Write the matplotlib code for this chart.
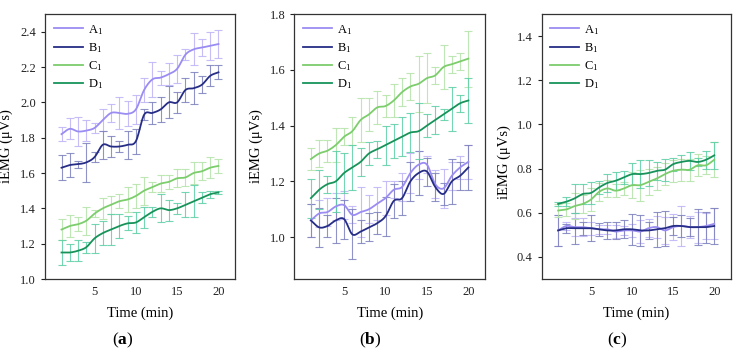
import numpy as np
import matplotlib
matplotlib.use('Agg')
import matplotlib.pyplot as plt

plt.rcParams['font.family'] = 'Liberation Serif'
plt.rcParams['mathtext.fontset'] = 'custom'
plt.rcParams['mathtext.rm'] = 'Liberation Serif'
plt.rcParams['mathtext.it'] = 'Liberation Serif:italic'
plt.rcParams['mathtext.bf'] = 'Liberation Serif:bold'

# time points (min)
t = np.arange(1, 21)

# panel (a)
a_A = [1.82, 1.85, 1.835, 1.84, 1.855, 1.90, 1.94, 1.94, 1.935, 1.96,
       2.07, 2.13, 2.14, 2.16, 2.19, 2.27, 2.30, 2.31, 2.32, 2.33]
a_A_err = [0.04, 0.06, 0.08, 0.06, 0.03, 0.06, 0.05, 0.09, 0.07, 0.08,
           0.07, 0.10, 0.04, 0.06, 0.08, 0.03, 0.09, 0.05, 0.08, 0.08]
a_B = [1.63, 1.645, 1.65, 1.66, 1.69, 1.76, 1.75, 1.75, 1.76, 1.78,
       1.93, 1.94, 1.96, 2.00, 2.00, 2.07, 2.08, 2.10, 2.15, 2.17]
a_B_err = [0.07, 0.07, 0.02, 0.11, 0.03, 0.08, 0.06, 0.03, 0.08, 0.07,
           0.03, 0.06, 0.07, 0.09, 0.06, 0.07, 0.09, 0.05, 0.06, 0.04]
a_C = [1.28, 1.30, 1.31, 1.33, 1.37, 1.40, 1.42, 1.44, 1.45, 1.47,
       1.50, 1.52, 1.54, 1.55, 1.57, 1.575, 1.60, 1.61, 1.63, 1.64]
a_C_err = [0.06, 0.06, 0.04, 0.08, 0.02, 0.06, 0.05, 0.04, 0.07, 0.07,
           0.08, 0.03, 0.05, 0.04, 0.05, 0.05, 0.06, 0.05, 0.06, 0.04]
a_D = [1.15, 1.15, 1.16, 1.18, 1.23, 1.26, 1.28, 1.30, 1.315, 1.32,
       1.35, 1.38, 1.40, 1.39, 1.40, 1.42, 1.44, 1.46, 1.48, 1.49]
a_D_err = [0.07, 0.05, 0.06, 0.03, 0.08, 0.07, 0.09, 0.07, 0.04, 0.06,
           0.06, 0.03, 0.08, 0.06, 0.03, 0.07, 0.09, 0.03, 0.02, 0.01]

# panel (b)
b_A = [1.06, 1.085, 1.09, 1.11, 1.115, 1.08, 1.09, 1.10, 1.12, 1.14,
       1.17, 1.18, 1.23, 1.26, 1.26, 1.19, 1.175, 1.22, 1.25, 1.27]
b_A_err = [0.06, 0.05, 0.05, 0.05, 0.05, 0.03, 0.09, 0.05, 0.06, 0.06,
           0.03, 0.05, 0.07, 0.05, 0.03, 0.05, 0.07, 0.05, 0.04, 0.06]
b_B = [1.06, 1.035, 1.04, 1.06, 1.065, 1.01, 1.02, 1.035, 1.05, 1.075,
       1.13, 1.14, 1.20, 1.23, 1.235, 1.18, 1.155, 1.20, 1.22, 1.25]
b_B_err = [0.06, 0.07, 0.04, 0.08, 0.07, 0.09, 0.04, 0.05, 0.04, 0.07,
           0.06, 0.06, 0.07, 0.08, 0.05, 0.05, 0.04, 0.08, 0.05, 0.08]
b_C = [1.28, 1.30, 1.31, 1.33, 1.36, 1.38, 1.42, 1.44, 1.465, 1.47,
       1.49, 1.52, 1.54, 1.55, 1.57, 1.58, 1.61, 1.62, 1.63, 1.64]
b_C_err = [0.04, 0.05, 0.04, 0.06, 0.03, 0.05, 0.08, 0.06, 0.06, 0.04,
           0.06, 0.05, 0.05, 0.10, 0.09, 0.03, 0.08, 0.03, 0.03, 0.10]
b_D = [1.14, 1.17, 1.19, 1.20, 1.23, 1.25, 1.27, 1.30, 1.315, 1.33,
       1.345, 1.36, 1.375, 1.38, 1.40, 1.42, 1.44, 1.46, 1.48, 1.49]
b_D_err = [0.07, 0.07, 0.03, 0.11, 0.07, 0.08, 0.05, 0.04, 0.03, 0.07,
           0.06, 0.07, 0.07, 0.10, 0.04, 0.05, 0.02, 0.08, 0.03, 0.08]

# panel (c)
c_A = [0.52, 0.54, 0.535, 0.535, 0.53, 0.525, 0.525, 0.515, 0.52, 0.52,
       0.515, 0.53, 0.535, 0.52, 0.535, 0.54, 0.535, 0.535, 0.54, 0.55]
c_A_err = [0.07, 0.02, 0.04, 0.04, 0.03, 0.02, 0.02, 0.03, 0.02, 0.03,
           0.05, 0.04, 0.05, 0.06, 0.06, 0.09, 0.05, 0.07, 0.06, 0.07]
c_B = [0.52, 0.53, 0.53, 0.53, 0.53, 0.525, 0.52, 0.52, 0.525, 0.525,
       0.52, 0.52, 0.525, 0.53, 0.54, 0.54, 0.535, 0.535, 0.535, 0.54]
c_B_err = [0.07, 0.02, 0.07, 0.03, 0.06, 0.03, 0.04, 0.04, 0.04, 0.07,
           0.07, 0.04, 0.08, 0.08, 0.04, 0.05, 0.04, 0.08, 0.07, 0.08]
c_C = [0.61, 0.615, 0.63, 0.64, 0.66, 0.695, 0.71, 0.70, 0.71, 0.725,
       0.725, 0.74, 0.755, 0.775, 0.79, 0.795, 0.795, 0.815, 0.815, 0.84]
c_C_err = [0.03, 0.03, 0.06, 0.04, 0.05, 0.04, 0.04, 0.03, 0.03, 0.06,
           0.07, 0.06, 0.05, 0.05, 0.05, 0.05, 0.05, 0.05, 0.04, 0.08]
c_D = [0.64, 0.65, 0.665, 0.685, 0.69, 0.715, 0.735, 0.745, 0.76, 0.775,
       0.775, 0.78, 0.79, 0.795, 0.82, 0.83, 0.835, 0.83, 0.84, 0.86]
c_D_err = [0.01, 0.02, 0.065, 0.045, 0.05, 0.03, 0.04, 0.04, 0.03, 0.05,
           0.065, 0.06, 0.04, 0.05, 0.03, 0.03, 0.04, 0.02, 0.04, 0.06]

labels = ['A$_1$', 'B$_1$', 'C$_1$', 'D$_1$']
line_colors = ['#9a8cf2', '#262d86', '#7ccd6c', '#17935a']
err_colors = ['#bdb3f7', '#7d80bd', '#b3e3a8', '#5ccfa5']


def smooth(x, y, n=12):
    # catmull-rom curve through the points, only for drawing
    x = np.asarray(x, float)
    y = np.asarray(y, float)
    px = np.concatenate([[2 * x[0] - x[1]], x, [2 * x[-1] - x[-2]]])
    py = np.concatenate([[2 * y[0] - y[1]], y, [2 * y[-1] - y[-2]]])
    s = np.linspace(0, 1, n, endpoint=False)
    xs, ys = [], []
    for i in range(1, len(px) - 2):
        for p, out in ((px, xs), (py, ys)):
            p0, p1, p2, p3 = p[i - 1], p[i], p[i + 1], p[i + 2]
            out.extend(0.5 * (2 * p1 + (-p0 + p2) * s
                              + (2 * p0 - 5 * p1 + 4 * p2 - p3) * s ** 2
                              + (-p0 + 3 * p1 - 3 * p2 + p3) * s ** 3))
    xs.append(x[-1])
    ys.append(y[-1])
    return np.array(xs), np.array(ys)


panels = [
    ([a_A, a_B, a_C, a_D], [a_A_err, a_B_err, a_C_err, a_D_err],
     (1.0, 2.5), np.arange(1.0, 2.41, 0.2), 45, 190, (-0.17, 0.5), 123, 'a'),
    ([b_A, b_B, b_C, b_D], [b_A_err, b_B_err, b_C_err, b_D_err],
     (0.85, 1.8), np.arange(1.0, 1.81, 0.2), 294.3, 190.7, (-0.165, 0.5), 370, 'b'),
    ([c_A, c_B, c_C, c_D], [c_A_err, c_B_err, c_C_err, c_D_err],
     (0.3, 1.5), np.arange(0.4, 1.41, 0.2), 541.7, 189, (-0.165, 0.44), 617, 'c'),
]

W, H = 742, 353
fig = plt.figure(figsize=(W / 100, H / 100), dpi=100)

for series, errs, ylim, yticks, left, width, ylab_pos, lab_x, letter in panels:
    ax = fig.add_axes([left / W, 74 / H, width / W, 265 / H])
    for i in range(4):
        ax.errorbar(t, series[i], yerr=errs[i], fmt='none', ecolor=err_colors[i],
                    elinewidth=0.8, capsize=3, capthick=0.8, alpha=0.85)
    for i in range(4):
        sx, sy = smooth(t, series[i])
        ax.plot(sx, sy, color=line_colors[i], lw=1.3, label=labels[i])
    ax.set_xlim(-1, 22)
    ax.set_ylim(*ylim)
    ax.set_xticks([5, 10, 15, 20])
    ax.set_yticks(yticks)
    ax.set_yticklabels([f'{v:.1f}' for v in yticks])
    ax.tick_params(axis='x', length=0, labelsize=9, pad=5, colors='#222222')
    ax.tick_params(axis='y', length=3, width=0.8, labelsize=9, colors='#222222')
    for sp in ax.spines.values():
        sp.set_color('#333333')
        sp.set_linewidth(0.9)
    ax.set_xlabel('Time (min)', fontsize=10.5, labelpad=6)
    ax.set_ylabel('iEMG (μVs)', fontsize=10.5)
    ax.yaxis.set_label_coords(*ylab_pos)
    ax.legend(loc='upper left', frameon=False, fontsize=9, handlelength=2.3,
              handletextpad=0.4, labelspacing=0.35, borderaxespad=0.3)
    fig.text(lab_x / W, 1 - 340 / H, r'($\mathbf{%s}$)' % letter,
             ha='center', va='center', fontsize=12.5)

fig.savefig('out.png', dpi=100)
